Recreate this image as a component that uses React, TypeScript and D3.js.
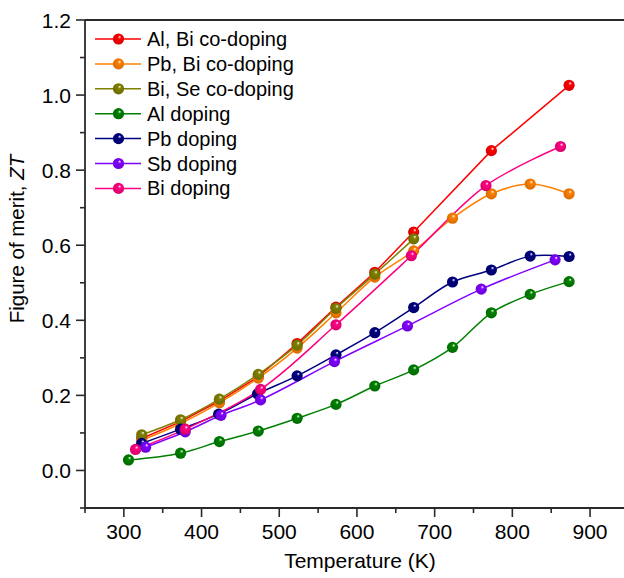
import React from "react";
import * as d3 from "d3";

const seriesNames = [
  "Al, Bi co-doping",
  "Pb, Bi co-doping",
  "Bi, Se co-doping",
  "Al doping",
  "Pb doping",
  "Sb doping",
  "Bi doping",
];
const seriesColors = ["#FF0000", "#FF8000", "#808000", "#008000", "#000080", "#8000FF", "#FF0080"];

const alBiT = [323, 373, 423, 473, 523, 573, 623, 673, 773, 873];
const alBiZT = [0.085, 0.13, 0.185, 0.25, 0.338, 0.435, 0.528, 0.635, 0.852, 1.026];
const pbBiT = [323, 373, 423, 473, 523, 573, 623, 673, 723, 773, 823, 873];
const pbBiZT = [0.08, 0.125, 0.18, 0.246, 0.326, 0.42, 0.515, 0.585, 0.672, 0.737, 0.763, 0.737];
const biSeT = [323, 373, 423, 473, 523, 573, 623, 673];
const biSeZT = [0.095, 0.135, 0.19, 0.256, 0.334, 0.432, 0.523, 0.617];
const alT = [306, 373, 423, 473, 523, 573, 623, 673, 723, 773, 823, 873];
const alZT = [0.028, 0.046, 0.077, 0.105, 0.139, 0.176, 0.225, 0.268, 0.328, 0.42, 0.469, 0.503];
const pbT = [323, 373, 422, 472, 523, 573, 623, 673, 723, 773, 823, 873];
const pbZT = [0.072, 0.11, 0.15, 0.204, 0.252, 0.308, 0.367, 0.434, 0.502, 0.534, 0.571, 0.57];
const sbT = [328, 379, 425, 476, 571, 665, 760, 855];
const sbZT = [0.062, 0.103, 0.147, 0.188, 0.29, 0.385, 0.483, 0.561];
const biT = [315, 379, 476, 573, 670, 766, 862];
const biZT = [0.056, 0.11, 0.216, 0.388, 0.572, 0.759, 0.863];

const seriesT = [alBiT, pbBiT, biSeT, alT, pbT, sbT, biT];
const seriesZT = [alBiZT, pbBiZT, biSeZT, alZT, pbZT, sbZT, biZT];

const xMajorTicks = [300, 400, 500, 600, 700, 800, 900];
const yMajorTicks = [0.0, 0.2, 0.4, 0.6, 0.8, 1.0, 1.2];

const W = 624;
const H = 578;
const FONT = "'Liberation Sans', Arial, Helvetica, sans-serif";

export default function App() {
  const x = d3.scaleLinear().domain([250, 950]).range([85, 628.9]);
  const y = d3.scaleLinear().domain([-0.1, 1.2]).range([508, 20]);
  const plotLeft = 85;
  const plotBottom = 508;
  const plotTop = 20;
  const axisColor = "#2a2a2a";

  const xMinor = d3.range(250, 951, 50).filter((v) => !xMajorTicks.includes(v));
  const yMinor = d3.range(-1, 12, 2).map((v) => v / 10);

  const smooth = d3
    .line<[number, number]>()
    .x((d) => x(d[0]))
    .y((d) => y(d[1]))
    .curve(d3.curveCatmullRom.alpha(0.5));
  const straight = d3
    .line<[number, number]>()
    .x((d) => x(d[0]))
    .y((d) => y(d[1]));

  const R = 5.6;

  return (
    <svg
      width={W}
      height={H}
      style={{ position: "absolute", left: 0, top: 0, background: "#fff" }}
      fontFamily={FONT}
    >
      <defs>
        {seriesColors.map((c, i) => (
          <radialGradient key={i} id={`g${i}`} cx="0.5" cy="0.5" r="0.6" fx="0.62" fy="0.3">
            <stop offset="0" stopColor="#ffffff" />
            <stop offset="0.25" stopColor={c} />
            <stop offset="1" stopColor={d3.color(c)!.darker(0.6).toString()} />
          </radialGradient>
        ))}
        <clipPath id="plotClip">
          <rect x={plotLeft} y={plotTop} width={W - plotLeft} height={plotBottom - plotTop} />
        </clipPath>
      </defs>

      {/* series */}
      <g clipPath="url(#plotClip)">
        {seriesT.map((ts, i) => {
          const pts = ts.map((t, j) => [t, seriesZT[i][j]] as [number, number]);
          const gen = i === 0 ? straight : smooth;
          return (
            <path key={`l${i}`} d={gen(pts) || ""} fill="none" stroke={seriesColors[i]} strokeWidth={1.5} />
          );
        })}
        {seriesT.map((ts, i) =>
          ts.map((t, j) => (
            <circle key={`m${i}-${j}`} cx={x(t)} cy={y(seriesZT[i][j])} r={R} fill={`url(#g${i})`} />
          ))
        )}
      </g>

      {/* axes */}
      <line x1={plotLeft} x2={W} y1={plotTop} y2={plotTop} stroke={axisColor} strokeWidth={1.8} />
      <line x1={plotLeft} x2={W} y1={plotBottom} y2={plotBottom} stroke={axisColor} strokeWidth={1.8} />
      <line x1={plotLeft} x2={plotLeft} y1={plotTop} y2={plotBottom} stroke={axisColor} strokeWidth={1.8} />

      {xMajorTicks.map((t) => (
        <g key={`xt${t}`}>
          <line x1={x(t)} x2={x(t)} y1={plotBottom} y2={plotBottom + 9} stroke={axisColor} strokeWidth={1.6} />
          <text x={x(t)} y={539} textAnchor="middle" fontSize={21} fill="#000">
            {t}
          </text>
        </g>
      ))}
      {xMinor.map((t) => (
        <line key={`xm${t}`} x1={x(t)} x2={x(t)} y1={plotBottom} y2={plotBottom + 5} stroke={axisColor} strokeWidth={1.6} />
      ))}
      {yMajorTicks.map((t) => (
        <g key={`yt${t}`}>
          <line x1={plotLeft - 9} x2={plotLeft} y1={y(t)} y2={y(t)} stroke={axisColor} strokeWidth={1.6} />
          <text x={71} y={y(t) + 7.5} textAnchor="end" fontSize={21} fill="#000">
            {t.toFixed(1)}
          </text>
        </g>
      ))}
      {yMinor.map((t) => (
        <line key={`ym${t}`} x1={plotLeft - 5} x2={plotLeft} y1={y(t)} y2={y(t)} stroke={axisColor} strokeWidth={1.6} />
      ))}

      <text x={360} y={568} textAnchor="middle" fontSize={21} fill="#000">
        Temperature (K)
      </text>
      <text transform="translate(24,239) rotate(-90)" textAnchor="middle" fontSize={20.5} fill="#000">
        Figure of merit, <tspan fontStyle="italic">ZT</tspan>
      </text>

      {/* legend */}
      {seriesNames.map((n, i) => {
        const cy = 39 + i * 24.9;
        return (
          <g key={`lg${i}`}>
            <line x1={95} x2={141} y1={cy} y2={cy} stroke={seriesColors[i]} strokeWidth={1.5} />
            <circle cx={118.5} cy={cy} r={R} fill={`url(#g${i})`} />
            <text x={147} y={cy + 7} fontSize={20} fill="#000">
              {n}
            </text>
          </g>
        );
      })}
    </svg>
  );
}
